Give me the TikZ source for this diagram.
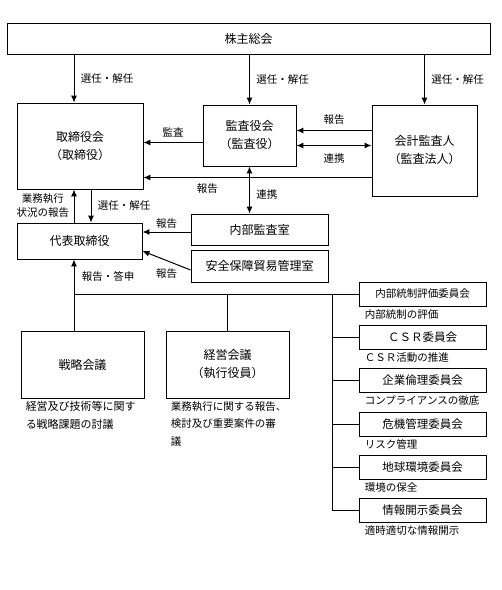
\documentclass[tikz,border=0pt]{standalone}
\usepackage{fontspec}
\setmainfont{Noto Sans CJK JP}
\usetikzlibrary{arrows.meta}

\tikzset{
    box/.style={draw, line width=0.9pt, align=center, inner sep=0pt, font=\fontsize{12}{18}\selectfont},
    cbox/.style={box, minimum width=127pt, minimum height=24pt, font=\fontsize{11.5}{14}\selectfont},
    lbl/.style={font=\fontsize{10.5}{14}\selectfont, align=center},
    desc/.style={font=\fontsize{10.5}{17.5}\selectfont, align=left, anchor=north west, inner sep=0pt},
    arr/.style={line width=1pt, -{Latex[length=7pt,width=6pt]}},
    dblarr/.style={line width=1pt, {Latex[length=7pt,width=6pt]}-{Latex[length=7pt,width=6pt]}},
    link/.style={line width=1pt}
}

\begin{document}
\begin{tikzpicture}[x=1pt, y=-1pt]
    \useasboundingbox (0,0) rectangle (502,590);

    % Upper boxes
    \node[box, minimum width=483pt, minimum height=31pt] (share) at (248.5,38.5) {株主総会};
    \node[box, minimum width=126pt, minimum height=86pt] (board) at (80,146) {取締役会\\（取締役）};
    \node[box, minimum width=93pt, minimum height=61pt] (audit) at (249.5,135.5) {監査役会\\（監査役）};
    \node[box, minimum width=105pt, minimum height=91pt] (acct) at (424.5,150.5) {会計監査人\\（監査法人）};
    \node[box, minimum width=125pt, minimum height=36pt] (rep) at (79.5,241) {代表取締役};
    \node[box, minimum width=137pt, minimum height=31pt] (internal) at (259.5,229.5) {内部監査室};
    \node[box, minimum width=137pt, minimum height=32pt] (security) at (259.5,266) {安全保障貿易管理室};

    % Lower boxes
    \node[box, minimum width=123pt, minimum height=67pt] (strategy) at (82.5,364.5) {戦略会議};
    \node[box, minimum width=123pt, minimum height=67pt] (mgmt) at (227.5,364.5) {経営会議\\（執行役員）};
    \node[desc, font=\fontsize{11}{17.5}\selectfont] at ([xshift=5pt,yshift=-3pt]strategy.south west) {経営及び技術等に関す\\る戦略課題の討議};
    \node[desc] at ([xshift=5pt,yshift=-3pt]mgmt.south west) {業務執行に関する報告、\\検討及び重要案件の審\\議};

    % Appointment from the shareholders
    \draw[arr] ([xshift=-6pt]board.north |- share.south) -- ([xshift=-6pt]board.north)
        node[lbl, midway, right=3pt] {選任・解任};
    \draw[arr] (audit.north |- share.south) -- (audit.north)
        node[lbl, midway, right=3pt] {選任・解任};
    \draw[arr] (acct.north |- share.south) -- (acct.north)
        node[lbl, midway, right=3pt] {選任・解任};

    % Audit and reports
    \draw[arr] ([yshift=-7pt]audit.west) -- ([yshift=-7pt]audit.west -| board.east)
        node[lbl, midway, above=2pt] {監査};
    \draw[arr] ([yshift=20pt]acct.west) -- ([yshift=20pt]acct.west -| audit.east)
        node[lbl, midway, above=2pt] {報告};
    \draw[dblarr] ([yshift=5pt]acct.west) -- ([yshift=5pt]acct.west -| audit.east)
        node[lbl, midway, below=4pt] {連携};
    \draw[arr] ([yshift=-27pt]acct.west) -- ([yshift=-27pt]acct.west -| board.east)
        node[lbl, pos=0.72, below=2pt] {報告};
    \draw[dblarr] (audit.south) -- (audit.south |- internal.north)
        node[lbl, pos=0.6, right=3pt] {連携};

    % Board and representative director
    \draw[arr] ([xshift=-5.5pt]rep.north) -- ([xshift=-5.5pt]rep.north |- board.south)
        node[lbl, midway, left=1pt] {業務執行\\状況の報告};
    \draw[arr] ([xshift=11pt]board.south) -- ([xshift=11pt]board.south |- rep.north)
        node[lbl, midway, right=3pt] {選任・解任};
    \draw[arr] ([yshift=-2.5pt]internal.west) -- ([yshift=-2.5pt]internal.west -| rep.east)
        node[lbl, midway, above=0pt] {報告};
    \draw[arr] ([yshift=-4pt]security.west) -- ([yshift=-10pt]rep.east)
        node[lbl, midway, below=4pt] {報告};

    % Committees
    \foreach \i/\y/\name/\text in {1/294/{\fontsize{10.5}{14}\selectfont 内部統制評価委員会}/{内部統制の評価},
                                  2/337.5/{ＣＳＲ委員会}/{ＣＳＲ活動の推進},
                                  3/380.5/{企業倫理委員会}/{コンプライアンスの徹底},
                                  4/424/{危機管理委員会}/{リスク管理},
                                  5/467/{地球環境委員会}/{環境の保全},
                                  6/510.5/{情報開示委員会}/{適時適切な情報開示}} {
        \node[cbox] (c\i) at (422.5,\y) {\name};
        \node[desc, font=\fontsize{10.5}{12}\selectfont] at ([xshift=6pt,yshift=-3pt]c\i.south west) {\text};
    }

    % Bus line and branches
    \coordinate (busL) at (74,294);
    \coordinate (spine) at (332,294);
    \draw[link] (busL) -- (c1.west);
    \draw[arr] (busL) -- (busL |- rep.south)
        node[lbl, midway, right=4pt] {報告・答申};
    \draw[link] (busL) -- (busL |- strategy.north);
    \draw[link] (mgmt.north |- busL) -- (mgmt.north);
    \draw[link] (spine) -- (spine |- c6.west);
    \foreach \i in {2,...,6} {
        \draw[link] (spine |- c\i.west) -- (c\i.west);
    }
\end{tikzpicture}
\end{document}
